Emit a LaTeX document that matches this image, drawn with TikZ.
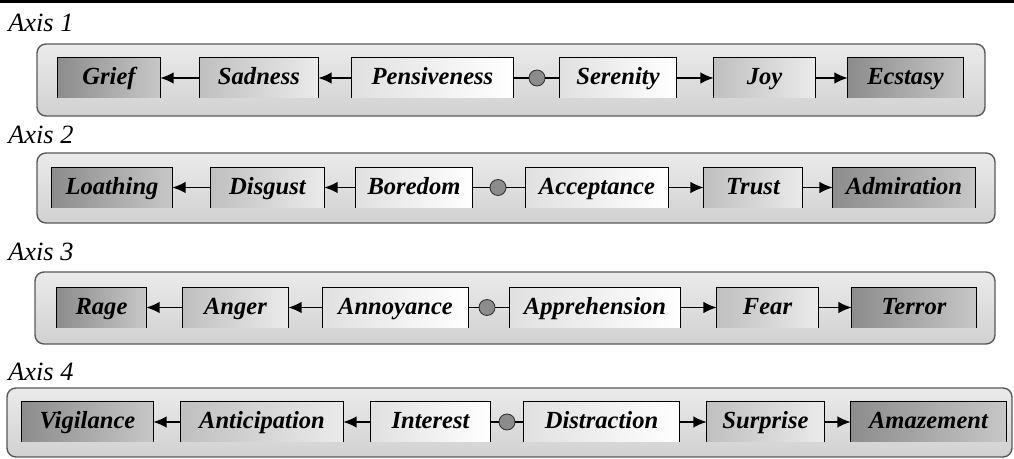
\documentclass[tikz,border=0pt]{standalone}
\usepackage{fontspec}
\setmainfont{Liberation Serif}
\usetikzlibrary{arrows.meta}

% box open at the bottom, as in the reference
\newcommand{\openbox}[1]{\draw[boxline] (#1.south west) -- (#1.north west) -- (#1.north east) -- (#1.south east);}

\begin{document}
\begin{tikzpicture}[x=0.02cm,y=-0.02cm]
		\tikzstyle{emo}=[inner sep=0pt, minimum height=0.8cm, text height=2ex, text depth=0.3ex, font=\fontsize{14}{16}\selectfont\bfseries\itshape];
		\tikzstyle{dark}=[emo, left color=black!45, right color=black!22];
		\tikzstyle{mid}=[emo, left color=black!25, right color=black!8];
		\tikzstyle{light}=[emo, left color=black!12, right color=white];
		\tikzstyle{boxline}=[draw=black, line width=0.6pt];
		\tikzstyle{dot}=[circle, fill=black!45, draw=black!80, line width=0.5pt, inner sep=0pt, minimum size=0.32cm];
		\tikzstyle{axis}=[anchor=west, inner sep=0pt, font=\fontsize{15}{17}\selectfont\itshape];
		\tikzstyle{row}=[draw=black!65, line width=0.8pt, rounded corners=0.18cm, top color=black!8, bottom color=black!18];
		\tikzstyle{link}=[line width=0.9pt, -{Latex[length=7.5pt,width=6.5pt]}];
		\tikzstyle{plain}=[line width=0.6pt];

		\useasboundingbox (0,0) rectangle (1014,459);
		\fill[black] (0,0) rectangle (1014,3);

		% axis 1
		\node[axis] (ax1) at (8,23) {Axis 1};
		\draw[row] (37,44) rectangle (985,116);
		\node[dark,  minimum width=2.04cm] (grief) at (109,78) {Grief};
		\node[mid,   minimum width=2.36cm] (sadness) at (259,78) {Sadness};
		\node[light, minimum width=3.22cm] (pensiveness) at (432.5,78) {Pensiveness};
		\node[dot] (m1) at (537,78) {};
		\node[light, minimum width=2.32cm] (serenity) at (618,78) {Serenity};
		\node[mid,   minimum width=2.02cm] (joy) at (764.5,78) {Joy};
		\node[dark,  minimum width=2.30cm] (ecstasy) at (905.5,78) {Ecstasy};
		\openbox{grief} \openbox{sadness} \openbox{pensiveness}
		\openbox{serenity} \openbox{joy} \openbox{ecstasy}
		\draw[link] (sadness) -- (grief);
		\draw[link] (pensiveness) -- (sadness);
		\draw[plain] (pensiveness) -- (m1) -- (serenity);
		\draw[link] (serenity) -- (joy);
		\draw[link] (joy) -- (ecstasy);

		% axis 2
		\node[axis] (ax2) at (8,135) {Axis 2};
		\draw[row] (37,153) rectangle (995,223);
		\node[dark,  minimum width=2.40cm] (loathing) at (112,187.5) {Loathing};
		\node[mid,   minimum width=2.26cm] (disgust) at (267.5,187.5) {Disgust};
		\node[light, minimum width=2.32cm] (boredom) at (414,187.5) {Boredom};
		\node[dot] (m2) at (498,187.5) {};
		\node[light, minimum width=2.84cm] (acceptance) at (597,187.5) {Acceptance};
		\node[mid,   minimum width=1.96cm] (trust) at (753,187.5) {Trust};
		\node[dark,  minimum width=2.84cm] (admiration) at (904,187.5) {Admiration};
		\openbox{loathing} \openbox{disgust} \openbox{boredom}
		\openbox{acceptance} \openbox{trust} \openbox{admiration}
		\draw[link] (disgust) -- (loathing);
		\draw[link] (boredom) -- (disgust);
		\draw[plain] (boredom) -- (m2) -- (acceptance);
		\draw[link] (acceptance) -- (trust);
		\draw[link] (trust) -- (admiration);

		% axis 3
		\node[axis] (ax3) at (8,252) {Axis 3};
		\draw[row] (35,272) rectangle (995,344);
		\node[dark,  minimum width=1.78cm] (rage) at (101.5,307.5) {Rage};
		\node[mid,   minimum width=2.10cm] (anger) at (235.5,307.5) {Anger};
		\node[light, minimum width=2.90cm] (annoyance) at (395.5,307.5) {Annoyance};
		\node[dot] (m3) at (487,307.5) {};
		\node[light, minimum width=3.40cm] (apprehension) at (595,307.5) {Apprehension};
		\node[mid,   minimum width=2.02cm] (fear) at (767.5,307.5) {Fear};
		\node[dark,  minimum width=2.48cm] (terror) at (914,307.5) {Terror};
		\openbox{rage} \openbox{anger} \openbox{annoyance}
		\openbox{apprehension} \openbox{fear} \openbox{terror}
		\draw[link] (anger) -- (rage);
		\draw[link] (annoyance) -- (anger);
		\draw[plain] (annoyance) -- (m3) -- (apprehension);
		\draw[link] (apprehension) -- (fear);
		\draw[link] (fear) -- (terror);

		% axis 4
		\node[axis] (ax4) at (8,372) {Axis 4};
		\draw[row] (7,388) rectangle (1012,457);
		\node[dark,  minimum width=2.62cm] (vigilance) at (87.5,422) {Vigilance};
		\node[mid,   minimum width=3.24cm] (anticipation) at (262,422) {Anticipation};
		\node[light, minimum width=2.38cm] (interest) at (430.5,422) {Interest};
		\node[dot] (m4) at (507,422) {};
		\node[light, minimum width=3.10cm] (distraction) at (601.5,422) {Distraction};
		\node[mid,   minimum width=2.34cm] (surprise) at (765.5,422) {Surprise};
		\node[dark,  minimum width=3.10cm] (amazement) at (928.5,422) {Amazement};
		\openbox{vigilance} \openbox{anticipation} \openbox{interest}
		\openbox{distraction} \openbox{surprise} \openbox{amazement}
		\draw[link] (anticipation) -- (vigilance);
		\draw[link] (interest) -- (anticipation);
		\draw[plain] (interest) -- (m4) -- (distraction);
		\draw[link] (distraction) -- (surprise);
		\draw[link] (surprise) -- (amazement);
\end{tikzpicture}
\end{document}
